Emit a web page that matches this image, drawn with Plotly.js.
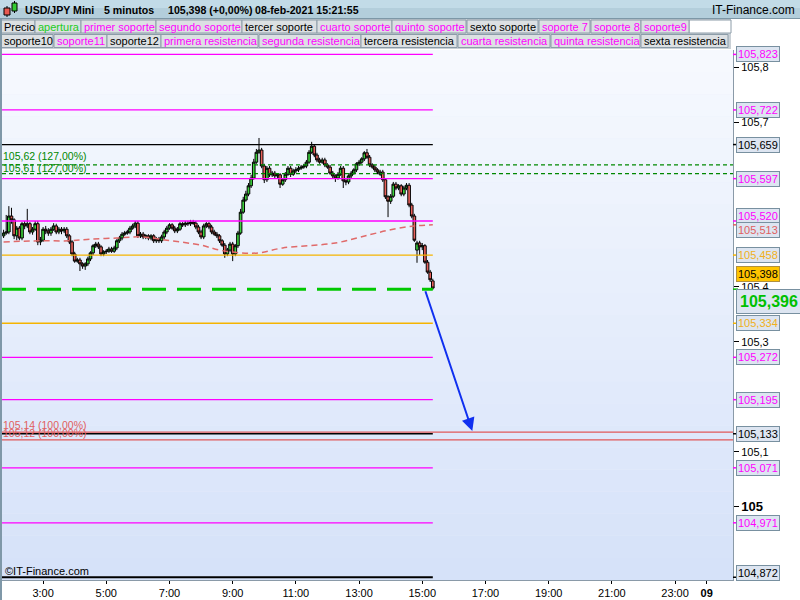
<!DOCTYPE html>
<html><head><meta charset="utf-8">
<script src="https://cdn.plot.ly/plotly-3.0.1.min.js"></script>
<style>html,body{margin:0;padding:0;background:#fff}#chart{width:800px;height:600px}</style>
</head><body><div id="chart"></div>
<script>
// ---------------- DATA ----------------
const startDate = '2021-02-08';
const startMinute = 105;      // first bar 01:45
const barMinutes = 5;

const opens = [105.493,105.498,105.500,105.529,105.522,105.493,105.507,105.489,105.515,105.511,
105.515,105.500,105.505,105.515,105.482,105.485,105.505,105.502,105.498,105.505,
105.511,105.500,105.505,105.502,105.505,105.493,105.482,105.460,105.447,105.449,
105.442,105.438,105.442,105.451,105.462,105.475,105.478,105.473,105.460,105.464,
105.465,105.469,105.465,105.471,105.484,105.489,105.496,105.498,105.500,105.507,
105.511,105.516,105.493,105.496,105.491,105.493,105.489,105.493,105.484,105.487,
105.484,105.491,105.500,105.507,105.513,105.507,105.502,105.505,105.515,105.513,
105.516,105.515,105.518,105.516,105.509,105.500,105.491,105.511,105.515,105.509,
105.500,105.496,105.493,105.484,105.476,105.460,105.467,105.478,105.460,105.475,
105.498,105.536,105.558,105.569,105.584,105.598,105.627,105.645,105.649,105.620,
105.595,105.616,105.604,105.607,105.602,105.604,105.587,105.595,105.605,105.616,
105.605,105.611,105.613,105.616,105.618,105.620,105.627,105.645,105.656,105.640,
105.631,105.627,105.631,105.622,105.618,105.607,105.602,105.598,105.605,105.616,
105.593,105.591,105.602,105.607,105.613,105.624,105.627,105.633,105.644,105.636,
105.622,105.618,105.613,105.605,105.609,105.595,105.564,105.556,105.565,105.587,
105.580,105.584,105.569,105.580,105.585,105.549,105.529,105.467,105.480,105.473,
105.475,105.445,105.427,105.411];
const highs = [105.504,105.531,105.547,105.544,105.525,105.511,105.511,105.518,105.520,105.542,
105.518,105.509,105.520,105.520,105.491,105.509,105.511,105.507,105.509,105.516,
105.515,105.509,105.509,105.509,105.509,105.496,105.485,105.464,105.453,105.453,
105.445,105.445,105.455,105.465,105.478,105.482,105.482,105.476,105.467,105.469,
105.473,105.473,105.475,105.487,105.493,105.500,105.502,105.504,105.511,105.515,
105.520,105.520,105.500,105.500,105.496,105.496,105.496,105.496,105.491,105.491,
105.495,105.504,105.511,105.516,105.516,105.511,105.509,105.518,105.518,105.520,
105.520,105.522,105.522,105.520,105.513,105.504,105.515,105.518,105.518,105.513,
105.504,105.500,105.496,105.487,105.480,105.471,105.482,105.482,105.478,105.502,
105.542,105.564,105.575,105.589,105.604,105.633,105.651,105.671,105.653,105.624,
105.620,105.620,105.611,105.611,105.607,105.607,105.598,105.609,105.620,105.620,
105.615,105.618,105.620,105.622,105.624,105.631,105.649,105.664,105.660,105.644,
105.635,105.635,105.635,105.625,105.622,105.611,105.605,105.609,105.620,105.620,
105.596,105.605,105.611,105.616,105.627,105.631,105.636,105.647,105.651,105.640,
105.625,105.622,105.616,105.613,105.613,105.598,105.567,105.569,105.591,105.591,
105.587,105.587,105.584,105.589,105.589,105.553,105.533,105.484,105.484,105.480,
105.478,105.449,105.431,105.415];
const lows = [105.489,105.495,105.496,105.515,105.487,105.485,105.485,105.485,105.505,105.507,
105.496,105.495,105.502,105.476,105.476,105.482,105.496,105.493,105.493,105.502,
105.496,105.496,105.496,105.498,105.489,105.478,105.456,105.444,105.444,105.429,
105.433,105.431,105.438,105.447,105.458,105.471,105.469,105.456,105.456,105.460,
105.462,105.462,105.462,105.467,105.480,105.485,105.493,105.495,105.496,105.504,
105.507,105.489,105.489,105.487,105.487,105.485,105.485,105.480,105.480,105.480,
105.480,105.487,105.496,105.504,105.504,105.498,105.498,105.502,105.509,105.509,
105.511,105.511,105.513,105.505,105.496,105.487,105.487,105.507,105.505,105.496,
105.493,105.489,105.480,105.473,105.453,105.456,105.464,105.447,105.456,105.471,
105.495,105.533,105.555,105.565,105.580,105.595,105.624,105.642,105.616,105.589,
105.591,105.600,105.600,105.598,105.598,105.580,105.584,105.591,105.602,105.600,
105.602,105.607,105.609,105.613,105.615,105.616,105.624,105.642,105.636,105.627,
105.624,105.624,105.618,105.615,105.604,105.598,105.591,105.595,105.602,105.580,
105.585,105.587,105.598,105.604,105.609,105.620,105.624,105.629,105.633,105.618,
105.615,105.609,105.605,105.602,105.591,105.560,105.527,105.551,105.562,105.576,
105.576,105.565,105.565,105.576,105.545,105.525,105.482,105.444,105.458,105.467,
105.442,105.424,105.409,105.395];
const closes = [105.498,105.500,105.529,105.522,105.493,105.507,105.489,105.515,105.511,105.515,
105.500,105.505,105.515,105.482,105.485,105.505,105.502,105.498,105.505,105.511,
105.500,105.505,105.502,105.505,105.493,105.482,105.460,105.447,105.449,105.442,
105.438,105.442,105.451,105.462,105.475,105.478,105.473,105.460,105.464,105.465,
105.469,105.465,105.471,105.484,105.489,105.496,105.498,105.500,105.507,105.511,
105.516,105.493,105.496,105.491,105.493,105.489,105.493,105.484,105.487,105.484,
105.491,105.500,105.507,105.513,105.507,105.502,105.505,105.515,105.513,105.516,
105.515,105.518,105.516,105.509,105.500,105.491,105.511,105.515,105.509,105.500,
105.496,105.493,105.484,105.476,105.460,105.467,105.478,105.460,105.475,105.498,
105.536,105.558,105.569,105.584,105.598,105.627,105.645,105.649,105.620,105.595,
105.616,105.604,105.607,105.602,105.604,105.587,105.595,105.605,105.616,105.605,
105.611,105.613,105.616,105.618,105.620,105.627,105.645,105.656,105.640,105.631,
105.627,105.631,105.622,105.618,105.607,105.602,105.598,105.605,105.616,105.593,
105.591,105.602,105.607,105.613,105.624,105.627,105.633,105.644,105.636,105.622,
105.618,105.613,105.609,105.609,105.595,105.564,105.556,105.565,105.587,105.580,
105.584,105.569,105.580,105.585,105.549,105.529,105.485,105.480,105.473,105.475,
105.445,105.427,105.413,105.398];

// moving average (red dashed), read at selected bars
const maTimes = ['2021-02-08 01:45','2021-02-08 02:55','2021-02-08 03:50','2021-02-08 04:30','2021-02-08 05:20',
 '2021-02-08 06:05','2021-02-08 06:55','2021-02-08 08:00','2021-02-08 08:35','2021-02-08 09:15','2021-02-08 09:50',
 '2021-02-08 10:35','2021-02-08 12:15','2021-02-08 13:20','2021-02-08 14:00','2021-02-08 14:45','2021-02-08 15:20'];
const maValues = [105.482,105.484,105.484,105.487,105.489,105.491,105.485,105.476,105.467,105.462,105.462,
 105.471,105.480,105.495,105.504,105.511,105.513];

// support / resistance levels (end at last bar)
const levelValues = [105.823,105.722,105.659,105.597,105.520,105.458,105.334,105.272,105.195,105.133,105.071,104.971,104.872];
const levelColors = ['#ff00ff','#ff00ff','#000000','#ff00ff','#ff00ff','#f5b400','#f5b400','#ff00ff','#ff00ff','#000000','#ff00ff','#ff00ff','#000000'];
const levelBoxShift = [0,0,0,0,5,0,0,0,0,0,0,0,4];

// fibonacci projections (full width)
const fibValues = [105.622,105.606];
const fibPercent = ['127,00%','127,00%'];
const baseValues = [105.136,105.122];
const basePercent = ['100,00%','100,00%'];

const lastPrice = 105.398;
const pivotValue = 105.396;
const maLast = 105.513;
const arrowFrom = {t:'2021-02-08 15:05', v:105.395};
const arrowTo = {t:'2021-02-08 16:35', v:105.138};

const xTickVals = ['2021-02-08 03:00','2021-02-08 05:00','2021-02-08 07:00','2021-02-08 09:00','2021-02-08 11:00',
 '2021-02-08 13:00','2021-02-08 15:00','2021-02-08 17:00','2021-02-08 19:00','2021-02-08 21:00','2021-02-08 23:00','2021-02-09 00:00'];
const xTickText = ['3:00','5:00','7:00','9:00','11:00','13:00','15:00','17:00','19:00','21:00','23:00','<b>09</b>'];
const yTickVals = [105, 105.1, 105.3, 105.4, 105.7, 105.8];
const yTickText = ['<b style="font-size:13px">105</b>','105,1','105,3','105,4','105,7','105,8'];

const headerTexts = ['USD/JPY Mini','5 minutos','105,398 (+0,00%)','08-feb-2021 15:21:55'];
const row1Labels = ['Precio','apertura','primer soporte','segundo soporte','tercer soporte','cuarto soporte','quinto soporte','sexto soporte','soporte 7','soporte 8','soporte9'];
const row1Colors = ['#000','#22cc22','#ff00ff','#ff00ff','#000','#ff00ff','#ff00ff','#000','#ff00ff','#ff00ff','#ff00ff'];
const row2Labels = ['soporte10','soporte11','soporte12','primera resistencia','segunda resistencia','tercera resistencia','cuarta resistencia','quinta resistencia','sexta resistencia'];
const row2Colors = ['#000','#ff00ff','#000','#ff00ff','#ff00ff','#000','#ff00ff','#ff00ff','#000'];

// ---------------- LAYOUT HELPERS ----------------
const W=800,H=600,ML=2,MR=67,MT=50,MB=20;
const PW=W-ML-MR, PH=H-MT-MB;
const px = v => (v-ML)/PW;
const py = v => (H-MB-v)/PH;
const X0='2021-02-08 01:42', X1='2021-02-09 00:50';
const Y0=104.867, Y1=105.831;
const FONT='Liberation Sans, Arial, sans-serif';
const fmt = (v,d) => v.toFixed(d).replace('.', ',');
const pad = n => String(n).padStart(2,'0');

const times = closes.map((_,i)=>{const m=startMinute+i*barMinutes;return startDate+' '+pad(Math.floor(m/60))+':'+pad(m%60);});
const lastTime = times[times.length-1];

const shapes=[]; const ann=[];

// plot background gradient
const nb=24;
for(let i=0;i<nb;i++){
  const t=i/(nb-1);
  const c0=[214,226,249], c1=[246,249,254];
  const c=c0.map((a,k)=>Math.round(a+(c1[k]-a)*t));
  shapes.push({type:'rect',xref:'paper',yref:'paper',x0:0,x1:1,y0:i/nb,y1:(i+1)/nb,layer:'below',line:{width:0},fillcolor:`rgb(${c})`});
}
// header
shapes.push({type:'rect',xref:'paper',yref:'paper',x0:px(0),x1:px(800),y0:py(18),y1:py(0),line:{width:0},fillcolor:'#b3cedb',layer:'below'});
shapes.push({type:'rect',xref:'paper',yref:'paper',x0:px(0),x1:px(800),y0:py(8),y1:py(0),line:{width:0},fillcolor:'#c2dbe7',layer:'below'});
shapes.push({type:'line',xref:'paper',yref:'paper',x0:px(0),x1:px(800),y0:py(18.5),y1:py(18.5),line:{width:1,color:'#7d97a6'}});
// rows background
shapes.push({type:'rect',xref:'paper',yref:'paper',x0:px(0),x1:px(731),y0:py(49),y1:py(19),line:{width:0},fillcolor:'#c9d0d6',layer:'below'});
shapes.push({type:'rect',xref:'paper',yref:'paper',x0:px(689),x1:px(731),y0:py(33),y1:py(20),line:{width:1,color:'#8c9ca8'},fillcolor:'#ffffff',layer:'below'});
// icon
shapes.push({type:'line',xref:'paper',yref:'paper',x0:px(7),x1:px(7),y0:py(17),y1:py(6),line:{width:1,color:'#000'}});
shapes.push({type:'rect',xref:'paper',yref:'paper',x0:px(4),x1:px(10),y0:py(15),y1:py(8),line:{width:1,color:'#000'},fillcolor:'#e85a50'});
shapes.push({type:'line',xref:'paper',yref:'paper',x0:px(14.5),x1:px(14.5),y0:py(13),y1:py(1),line:{width:1,color:'#000'}});
shapes.push({type:'rect',xref:'paper',yref:'paper',x0:px(12),x1:px(17),y0:py(11),y1:py(3),line:{width:1,color:'#000'},fillcolor:'#33cc33'});
// left border
shapes.push({type:'rect',xref:'paper',yref:'paper',x0:px(0),x1:px(2),y0:py(600),y1:py(19),line:{width:0},fillcolor:'#7f98a8'});

// buttons
const row1X=[[1,35],[35,81],[81,156],[156,242],[242,317],[317,392],[392,466],[467,538],[539,590],[591,641],[641,689]];
const row2X=[[1,53],[54,107],[107,161],[161,258],[259,361],[361,457],[458,550],[551,640],[641,728]];
function buttons(labels,colors,xs,yTop,yBot){
  labels.forEach((lab,i)=>{
    shapes.push({type:'rect',xref:'paper',yref:'paper',x0:px(xs[i][0]),x1:px(xs[i][1]),y0:py(yBot),y1:py(yTop),line:{width:1,color:'#8c9ca8'},fillcolor:'#dce0e3',layer:'below'});
    ann.push({xref:'paper',yref:'paper',x:px(xs[i][0]+2),y:py((yTop+yBot)/2),xanchor:'left',yanchor:'middle',showarrow:false,text:lab,font:{family:FONT,size:11,color:colors[i]},borderpad:0});
  });
}
buttons(row1Labels,row1Colors,row1X,20,33);
buttons(row2Labels,row2Colors,row2X,34.5,47.5);

// header texts
const headerX=[23,102,166,253];
headerTexts.forEach((t,i)=>ann.push({xref:'paper',yref:'paper',x:px(headerX[i]),y:py(10),xanchor:'left',yanchor:'middle',showarrow:false,text:'<b>'+t+'</b>',font:{family:FONT,size:10.6,color:'#000'}}));
ann.push({xref:'paper',yref:'paper',x:px(797),y:py(10),xanchor:'right',yanchor:'middle',showarrow:false,text:'IT-Finance.com',font:{family:FONT,size:12,color:'#000'}});

// level lines
levelValues.forEach((v,i)=>{
  shapes.push({type:'line',xref:'x',yref:'y',x0:X0,x1:lastTime,y0:v,y1:v,line:{color:levelColors[i],width:(v===104.872?2:1.3)}});
});
fibValues.forEach(v=>shapes.push({type:'line',xref:'paper',yref:'y',x0:0,x1:1,y0:v,y1:v,line:{color:'#008800',width:1.2,dash:'4px,3px'}}));
baseValues.forEach(v=>shapes.push({type:'line',xref:'paper',yref:'y',x0:0,x1:1,y0:v,y1:v,line:{color:'#e05858',width:1.2}}));
shapes.push({type:'line',xref:'x',yref:'y',x0:X0,x1:lastTime,y0:pivotValue,y1:pivotValue,line:{color:'#00c800',width:3,dash:'24px,11px'}});

// small colored ticks on price axis (next to value boxes)
[...levelValues.map((v,i)=>[v,levelColors[i]]),[maLast,'#e06060'],[pivotValue,'#00c000']].forEach(([v,c])=>{
  shapes.push({type:'line',xref:'paper',yref:'y',x0:1,x1:1+5/PW,y0:v,y1:v,line:{color:c,width:1.5}});
});

// fib labels
fibValues.forEach((v,i)=>ann.push({xref:'paper',yref:'y',x:0,y:v,xanchor:'left',yanchor:'bottom',showarrow:false,borderpad:0,yshift:(i===0?2:-1),
  text:fmt(v,2)+' ('+fibPercent[i]+')',font:{family:FONT,size:10.5,color:'#008800'}}));
baseValues.forEach((v,i)=>ann.push({xref:'paper',yref:'y',x:0,y:v,xanchor:'left',yanchor:'bottom',showarrow:false,borderpad:0,
  text:fmt(v,2)+' ('+basePercent[i]+')',font:{family:FONT,size:10.5,color:'#e06060'}}));

// right-side value boxes
const boxStyle={bgcolor:'#dde5f1',bordercolor:'#7890a0',borderwidth:1,borderpad:1};
function box(v,color,shift,extra){
  ann.push(Object.assign({xref:'paper',yref:'y',x:px(736),y:v,xanchor:'left',yanchor:'middle',yshift:shift,showarrow:false,
    text:fmt(v,3),font:{family:FONT,size:11,color:color}},boxStyle,extra||{}));
}
levelValues.forEach((v,i)=>box(v,levelColors[i]==='#f5b400'?'#f0b020':levelColors[i],levelBoxShift[i]));
box(maLast,'#e06060',-5);
box(lastPrice,'#000',14,{bgcolor:'#ffc400',bordercolor:'#b09040'});
box(pivotValue,'#00c000',-12,{font:{family:FONT,size:16,color:'#00c000'},text:'<b>'+fmt(pivotValue,3)+'</b>',borderpad:3});

// arrow
ann.push({xref:'x',yref:'y',axref:'x',ayref:'y',x:arrowTo.t,y:arrowTo.v,ax:arrowFrom.t,ay:arrowFrom.v,showarrow:true,
  arrowhead:2,arrowsize:1.3,arrowwidth:2,arrowcolor:'#1030f0',text:''});
// copyright
ann.push({xref:'paper',yref:'paper',x:px(3),y:py(571),xanchor:'left',yanchor:'middle',showarrow:false,text:'©IT-Finance.com',font:{family:FONT,size:11,color:'#000'}});

const traces=[
 {type:'scatter',mode:'lines',x:maTimes,y:maValues,line:{color:'#e06a6a',width:1.5,dash:'6px,4px',shape:'spline'},hoverinfo:'skip',showlegend:false},
 {type:'candlestick',x:times,open:opens,high:highs,low:lows,close:closes,
  increasing:{line:{color:'#000',width:1},fillcolor:'#3cd23c'},
  decreasing:{line:{color:'#000',width:1},fillcolor:'#e8605a'},
  whiskerwidth:0,hoverinfo:'skip',showlegend:false}
];

const layout={
  width:W,height:H,margin:{l:ML,r:MR,t:MT,b:MB,pad:0},
  paper_bgcolor:'#ffffff',plot_bgcolor:'#e8eefb',
  showlegend:false,hovermode:false,dragmode:false,boxgap:0,boxgroupgap:0,
  font:{family:FONT,size:11,color:'#000'},
  xaxis:{type:'date',range:[X0,X1],tickvals:xTickVals,ticktext:xTickText,ticks:'outside',ticklen:3,tickcolor:'#000',
    tickfont:{family:FONT,size:11,color:'#000'},showgrid:false,zeroline:false,showline:true,linecolor:'#8a9aa8',linewidth:1,
    rangeslider:{visible:false},fixedrange:true},
  yaxis:{range:[Y0,Y1],side:'right',tickvals:yTickVals,ticktext:yTickText,ticks:'outside',ticklen:5,tickcolor:'#000',
    tickfont:{family:FONT,size:11,color:'#000'},showgrid:false,zeroline:false,showline:true,linecolor:'#8a9aa8',linewidth:1,fixedrange:true},
  shapes:shapes,annotations:ann
};
Plotly.newPlot('chart',traces,layout,{staticPlot:true,displayModeBar:false});
</script></body></html>
